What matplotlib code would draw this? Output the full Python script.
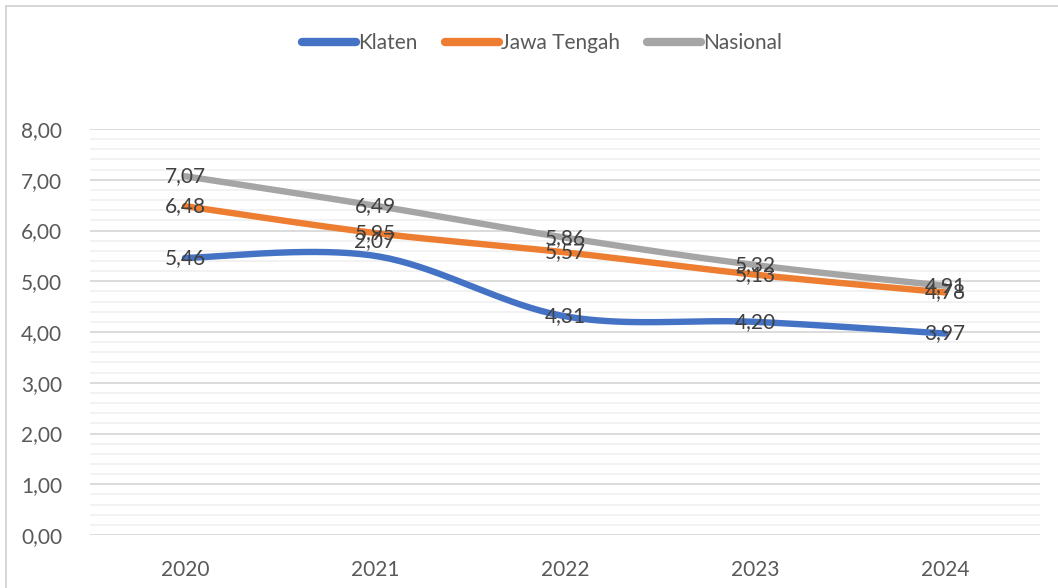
import numpy as np
import matplotlib
matplotlib.use("Agg")
import matplotlib.pyplot as plt
from matplotlib.ticker import MultipleLocator, FuncFormatter

years = [2020, 2021, 2022, 2023, 2024]
klaten = [5.46, 5.50, 4.31, 4.20, 3.97]
klaten_labels = ["5,46", "2,07", "4,31", "4,20", "3,97"]
jateng = [6.48, 5.95, 5.57, 5.13, 4.78]
nasional = [7.07, 6.49, 5.86, 5.32, 4.91]

series = [
    ("Klaten", klaten, klaten_labels, "#4472C4"),
    ("Jawa Tengah", jateng, None, "#ED7D31"),
    ("Nasional", nasional, None, "#A5A5A5"),
]

plt.rcParams["font.family"] = ["Lato", "DejaVu Sans"]


def smooth(xs, ys, n=40):
    # Excel-style smoothed line: cubic bezier with catmull-rom control points
    xs = np.asarray(xs, float)
    ys = np.asarray(ys, float)
    px = np.concatenate([[xs[0]], xs, [xs[-1]]])
    py = np.concatenate([[ys[0]], ys, [ys[-1]]])
    outx, outy = [], []
    t = np.linspace(0, 1, n)
    for i in range(1, len(px) - 2):
        p0 = np.array([px[i], py[i]])
        p3 = np.array([px[i + 1], py[i + 1]])
        c1 = p0 + (np.array([px[i + 1], py[i + 1]]) - np.array([px[i - 1], py[i - 1]])) / 6
        c2 = p3 - (np.array([px[i + 2], py[i + 2]]) - np.array([px[i], py[i]])) / 6
        b = ((1 - t) ** 3)[:, None] * p0 + (3 * (1 - t) ** 2 * t)[:, None] * c1 \
            + (3 * (1 - t) * t ** 2)[:, None] * c2 + (t ** 3)[:, None] * p3
        outx.extend(b[:, 0])
        outy.extend(b[:, 1])
    return outx, outy


fig = plt.figure(figsize=(10.58, 5.88), dpi=100)
ax = fig.add_axes([90 / 1058, 1 - 535 / 588, 950 / 1058, 406 / 588])

xpos = list(range(len(years)))
for name, vals, labs, col in series:
    sx, sy = smooth(xpos, vals)
    ax.plot(sx, sy, color=col, lw=4.6, solid_capstyle="round", label=name, zorder=3)
    for i, (x, v) in enumerate(zip(xpos, vals)):
        txt = labs[i] if labs else f"{v:.2f}".replace(".", ",")
        dy = 0.3 if (labs and i == 1) else 0
        ax.text(x, v + dy, txt, ha="center", va="center", fontsize=15,
                color="#404040", zorder=4)

ax.set_xlim(-0.5, len(years) - 0.5)
ax.set_ylim(0, 8)
ax.set_xticks(xpos)
ax.set_xticklabels([str(y) for y in years])
ax.yaxis.set_major_locator(MultipleLocator(1))
ax.yaxis.set_minor_locator(MultipleLocator(0.2))
ax.yaxis.set_major_formatter(FuncFormatter(lambda v, p: f"{v:.2f}".replace(".", ",")))
ax.grid(axis="y", which="major", color="#D9D9D9", lw=1.3)
ax.grid(axis="y", which="minor", color="#EFEFEF", lw=1.1)
ax.set_axisbelow(True)
for s in ax.spines.values():
    s.set_visible(False)
ax.tick_params(axis="both", which="both", length=0, labelsize=15, labelcolor="#595959")
ax.tick_params(axis="x", pad=18)
ax.tick_params(axis="y", pad=20)

leg = fig.legend(loc="center", bbox_to_anchor=(542 / 1058, 1 - 43 / 588), ncol=3,
                 frameon=False, fontsize=15, handlelength=2.6, handletextpad=0.1,
                 columnspacing=1.3, labelcolor="#595959")
for h in leg.get_lines():
    h.set_linewidth(6)

# chart frame lines
fig.add_artist(plt.Line2D([6 / 1058, 6 / 1058], [0, 1 - 6 / 588], color="#D0D0D0", lw=1.2))
fig.add_artist(plt.Line2D([6 / 1058, 1], [1 - 6 / 588, 1 - 6 / 588], color="#D0D0D0", lw=1.2))

fig.savefig("out.png", dpi=100)
